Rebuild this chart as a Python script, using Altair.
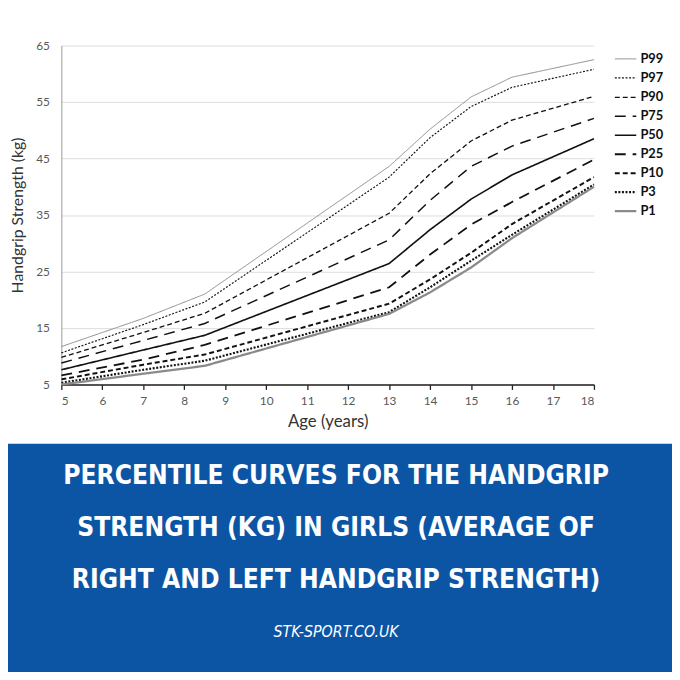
import altair as alt
import pandas as pd

# ---- data ----
ages = [5, 7, 8.5, 13, 14, 15, 16, 18]
percentiles = ["P99", "P97", "P90", "P75", "P50", "P25", "P10", "P3", "P1"]
p99 = [11.7, 16.7, 21.0, 43.6, 50.2, 55.9, 59.4, 62.5]
p97 = [10.6, 15.6, 19.6, 41.7, 48.7, 54.2, 57.6, 60.8]
p90 = [9.8, 14.2, 17.6, 35.3, 42.3, 48.1, 51.8, 56.0]
p75 = [8.8, 12.8, 15.8, 30.6, 37.6, 43.6, 47.2, 52.1]
p50 = [7.6, 11.1, 13.7, 26.4, 32.4, 37.8, 42.1, 48.5]
p25 = [6.6, 9.4, 12.0, 22.2, 28.0, 33.3, 37.3, 44.8]
p10 = [5.9, 8.5, 10.3, 19.3, 23.6, 28.3, 33.4, 41.7]
p3 = [5.3, 7.6, 9.2, 17.8, 22.2, 26.9, 31.5, 40.4]
p1 = [5.0, 6.9, 8.3, 17.5, 21.3, 25.7, 30.9, 40.0]
series = [p99, p97, p90, p75, p50, p25, p10, p3, p1]

x_ticks = list(range(5, 19))
y_ticks = [5, 15, 25, 35, 45, 55, 65]
title_lines = [
    "PERCENTILE CURVES FOR THE HANDGRIP",
    "STRENGTH (KG) IN GIRLS (AVERAGE OF",
    "RIGHT AND LEFT HANDGRIP STRENGTH)",
]
site = "STK-SPORT.CO.UK"

rows = []
for name, vals in zip(percentiles, series):
    for a, v in zip(ages, vals):
        rows.append({"Age": a, "Strength": v, "Percentile": name})
df = pd.DataFrame(rows)

colors = ["#8a8a8a", "#111111", "#111111", "#111111", "#111111",
          "#111111", "#111111", "#111111", "#8a8a8a"]
dashes = [[1, 0], [2, 1.6], [5, 3], [11, 7], [1, 0], [11, 7], [5, 3], [2, 1.6], [1, 0]]
widths = [1, 2.3, 3.2, 4.3, 3, 4.3, 3.2, 2.3, 1]

W, H = 539, 343
FONT = "Lato"
COND = "DejaVu Sans Condensed, Liberation Sans Narrow, sans-serif"

band = alt.Chart(pd.DataFrame({"k": [0]})).mark_rect(
    color="#0c55a5", clip=False
).encode(
    x=alt.value(-60), x2=alt.value(630),
    y=alt.value(403), y2=alt.value(640),
)

title = alt.Chart(pd.DataFrame({"k": [0]})).mark_text(
    text=title_lines, color="white", font=COND,
    fontWeight="bold", fontSize=26.5, lineHeight=52.5, align="center",
    baseline="middle",
).encode(x=alt.value(278), y=alt.value(436))

site_text = alt.Chart(pd.DataFrame({"k": [0]})).mark_text(
    text=site, color="white", font=COND,
    fontStyle="italic", fontSize=16, align="center", baseline="middle",
).encode(x=alt.value(278), y=alt.value(594))

lines = alt.Chart(df).mark_line(clip=False).encode(
    x=alt.X("Age:Q", scale=alt.Scale(domain=[5, 18], nice=False),
            axis=alt.Axis(values=x_ticks, title="Age (years)", grid=False,
                          labelFontSize=12, labelColor="#595959", labelFont=FONT,
                          titleFont=FONT, titleFontSize=17, titleFontWeight="normal",
                          titleColor="#333333", titlePadding=8,
                          domainColor="#222222", domainWidth=1.6,
                          tickColor="#222222", tickSize=5, tickWidth=1.3,
                          labelPadding=6)),
    y=alt.Y("Strength:Q", scale=alt.Scale(domain=[5, 65], nice=False),
            axis=alt.Axis(values=y_ticks, title="Handgrip Strength (kg)",
                          grid=True, gridColor="#dcdcdc", gridWidth=1,
                          ticks=False, labelPadding=12,
                          labelFontSize=12, labelColor="#595959", labelFont=FONT,
                          titleFont=FONT, titleFontSize=16, titleFontWeight="normal",
                          titleColor="#333333", titlePadding=10,
                          domainColor="#999999", domainWidth=1)),
    color=alt.Color("Percentile:N", scale=alt.Scale(domain=percentiles, range=colors),
                    sort=percentiles,
                    legend=alt.Legend(title=None, orient="none", legendX=559, legendY=2,
                                      symbolType="stroke", symbolSize=470,
                                      labelFont=FONT, labelFontWeight="bold",
                                      labelFontSize=13, labelColor="#111111",
                                      rowPadding=0.2, labelOffset=3)),
    strokeDash=alt.StrokeDash("Percentile:N", scale=alt.Scale(domain=percentiles, range=dashes),
                              sort=percentiles, legend=None),
    strokeWidth=alt.StrokeWidth("Percentile:N", scale=alt.Scale(domain=percentiles, range=widths),
                                sort=percentiles, legend=None),
    detail="Percentile:N",
)

chart = alt.layer(band, title, site_text, lines).properties(
    width=W, height=H,
    autosize=alt.AutoSizeParams(type="none"),
    padding={"left": 54, "top": 34, "right": 79, "bottom": 287},
    background="white",
).configure_view(stroke=None)

chart.save("out.html", embed_options={"renderer": "svg", "actions": False})
